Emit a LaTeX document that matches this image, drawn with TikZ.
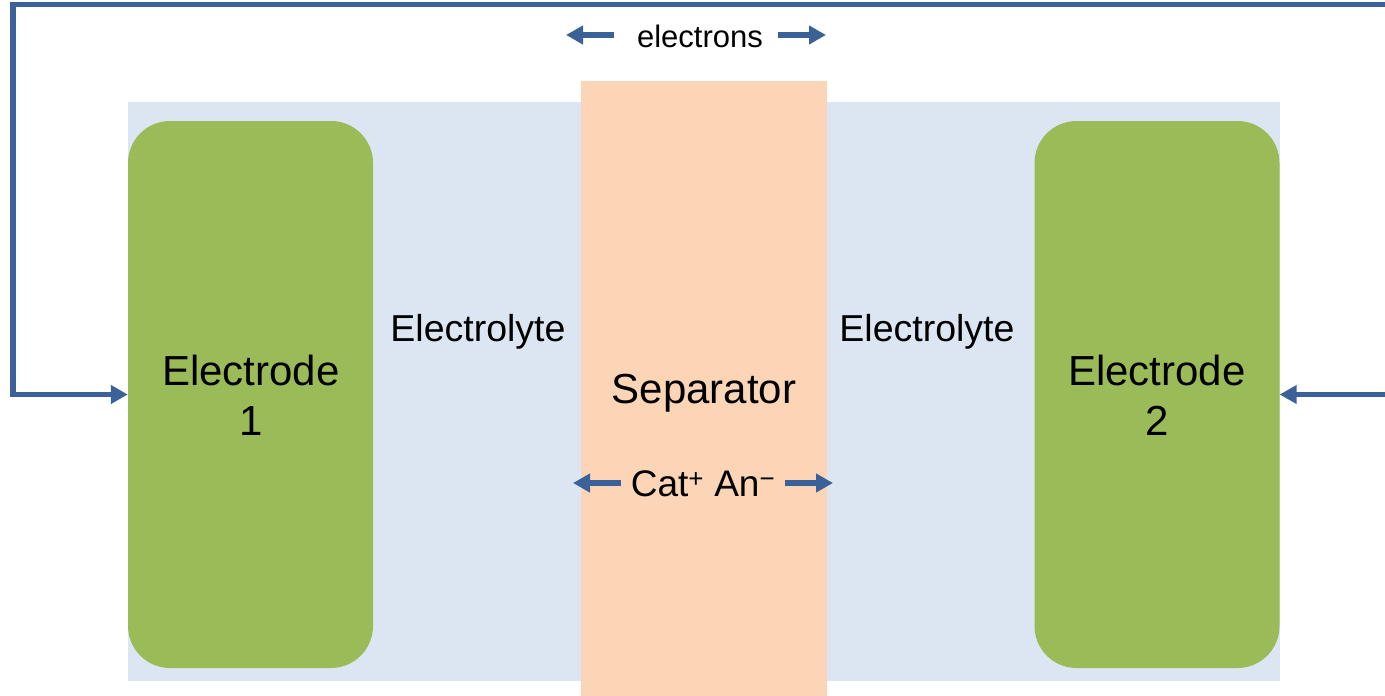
\documentclass[tikz,border=0pt]{standalone}
\usepackage{fontspec}
\setmainfont{Liberation Sans}
\usetikzlibrary{arrows.meta}
\definecolor{wire}{HTML}{3A6298}
\definecolor{elyte}{HTML}{DCE6F2}
\definecolor{sepc}{HTML}{FBD5B5}
\definecolor{elec}{HTML}{9BBB59}
\begin{document}
\begin{tikzpicture}[x=1pt,y=-1pt,
  electrode/.style={fill=elec, rounded corners=42pt, minimum width=245pt, minimum height=547pt, inner sep=0pt},
  bigtext/.style={align=center, font=\fontsize{42}{50}\selectfont, inner sep=0pt},
  midtext/.style={font=\fontsize{37.5}{40}\selectfont, inner sep=0pt},
  flow/.style={draw=wire, line width=5.5pt, -{Triangle[length=17pt,width=18pt]}}]
\useasboundingbox (0,0) rectangle (1385,696);
% electrolyte background
\node[fill=elyte, minimum width=1152pt, minimum height=579pt, inner sep=0pt] (bg) at (704,391.5) {};
% separator
\node[fill=sepc, minimum width=246pt, minimum height=615pt, inner sep=0pt] (sep) at (704,388.5) {};
% electrodes
\node[electrode] (e1) at (250.5,394.5) {};
\node[electrode] (e2) at (1157,394.5) {};
\node[bigtext] (t1) at (251,395) {Electrode\\1};
\node[bigtext] (t2) at (1157,395) {Electrode\\2};
\node[bigtext] (ts) at (704,393) {Separator};
\node[midtext] (l1) at (478,332) {Electrolyte};
\node[midtext] (l2) at (927,332) {Electrolyte};
\node[font=\fontsize{31}{36}\selectfont, inner sep=0pt] (el) at (700,36) {electrons};
\node[font=\fontsize{37}{40}\selectfont, inner sep=0pt] (ions) at (703,484) {Cat\textsuperscript{+} An\textsuperscript{\char"2212}};
% electrons arrows
\coordinate (ea1) at (614,35);
\coordinate (ea2) at (566,35);
\coordinate (eb1) at (778,35);
\coordinate (eb2) at (826,35);
\draw[flow] (ea1) -- (ea2);
\draw[flow] (eb1) -- (eb2);
% ion arrows
\coordinate (ia1) at (621,483);
\coordinate (ia2) at (573,483);
\coordinate (ib1) at (785,483);
\coordinate (ib2) at (833,483);
\draw[flow] (ia1) -- (ia2);
\draw[flow] (ib1) -- (ib2);
% external wire
\coordinate (wr) at (1386,4.5);
\coordinate (wc) at (13,4.5);
\draw[flow, line join=miter] (wr) -- (wc) |- (e1.west);
\coordinate (rin) at (1386,394.5);
\draw[flow] (rin) -- (e2.east);
\end{tikzpicture}
\end{document}
